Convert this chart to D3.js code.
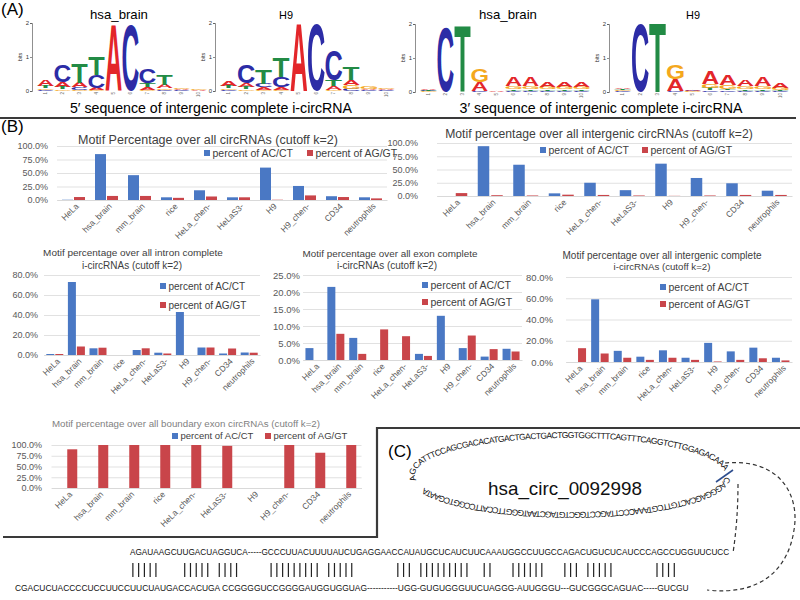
<!DOCTYPE html>
<html><head><meta charset="utf-8">
<script src="https://cdn.jsdelivr.net/npm/d3@7"></script>
<style>body{margin:0;background:#fff} svg{display:block} text{font-family:"Liberation Sans",Arial,sans-serif}</style>
</head><body><svg id="fig" width="800" height="600"></svg>
<script>
// ---------------- DATA ----------------
const categories = ["HeLa","hsa_brain","mm_brain","rice","HeLa_chen-","HeLaS3-","H9","H9_chen-","CD34","neutrophils"];
const seriesNames = ["percent of AC/CT","percent of AG/GT"];
const ticks100 = [0,25,50,75,100];
const ticks80 = [0,20,40,60,80];
const ticks25 = [0,5,10,15,20,25];
// percent values
const allAC = [0.5,85,46,5,18,5,60,26,7,5];
const allAG = [5.5,7.5,7.5,4,6.5,5,0.5,8.5,5.5,3];
const intergenicAC = [0,94,59,5,25,11,61,34,24,10];
const intergenicAG = [5.5,1.5,1,2.5,2,1,0.3,1,2,2];
const intronAC = [1,73,6.7,0,5,2.3,43,7.5,1.5,2.5];
const intronAG = [1,8.5,7.3,0,6.7,1.5,0,7.5,6.5,2.3];
const exonAC = [3.5,21.5,6.5,0,0,1.8,13,3.5,1,3.3];
const exonAG = [0,7.7,1.8,9,7,1.2,0,7.2,3.2,2.5];
const interCompAC = [0,59,10.5,5,11,4,18,10,13.5,4];
const interCompAG = [13,8,4,2,4,2,0.5,2,3.5,1.5];
const boundaryAC = [0,0,0,0,0,0,0,0,0,0];
const boundaryAG = [90,100,100,100,100,98,0,100,82,100];

// sequence logos: per position, stacks bottom -> top, heights in bits
const logo5Brain = [
 [["C",0.04],["G",0.05],["T",0.06],["A",0.17]],
 [["G",0.05],["T",0.08],["A",0.13],["C",0.5]],
 [["G",0.04],["C",0.07],["A",0.13],["T",0.58]],
 [["G",0.03],["A",0.06],["C",0.38],["T",0.53]],
 [["A",1.94]],
 [["C",1.92]],
 [["G",0.04],["A",0.08],["T",0.12],["C",0.44]],
 [["C",0.04],["G",0.04],["A",0.1],["T",0.29]],
 [["C",0.03],["A",0.03],["G",0.04]],
 [["A",0.02],["G",0.02]]
];
const logo5H9 = [
 [["C",0.04],["G",0.05],["T",0.07],["A",0.16]],
 [["G",0.05],["T",0.07],["A",0.12],["C",0.52]],
 [["G",0.04],["A",0.07],["C",0.1],["T",0.41]],
 [["G",0.03],["A",0.07],["C",0.3],["T",0.57]],
 [["A",1.97]],
 [["C",1.97]],
 [["G",0.04],["A",0.1],["T",0.18],["C",0.88]],
 [["C",0.07],["G",0.1],["A",0.15],["T",0.36]],
 [["C",0.03],["A",0.03],["G",0.06]],
 [["C",0.03],["A",0.03],["G",0.04]]
];
const logo3Brain = [
 [["G",0.02],["C",0.02],["T",0.03],["A",0.04]],
 [["C",1.9]],
 [["T",1.96]],
 [["C",0.03],["A",0.26],["G",0.37]],
 [["G",0.01],["A",0.02]],
 [["C",0.04],["T",0.05],["G",0.08],["A",0.27]],
 [["C",0.04],["T",0.05],["G",0.08],["A",0.27]],
 [["C",0.04],["T",0.04],["G",0.06],["A",0.13]],
 [["C",0.04],["T",0.04],["G",0.07],["A",0.16]],
 [["C",0.04],["T",0.04],["G",0.07],["A",0.16]]
];
const logo3H9 = [
 [["C",0.02],["G",0.03],["T",0.03],["A",0.05]],
 [["C",2.0]],
 [["T",2.02]],
 [["C",0.04],["A",0.34],["G",0.42]],
 [["G",0.02],["C",0.02],["A",0.03]],
 [["C",0.05],["T",0.06],["G",0.12],["A",0.37]],
 [["C",0.05],["T",0.05],["G",0.11],["A",0.32]],
 [["C",0.04],["T",0.05],["G",0.08],["A",0.2]],
 [["C",0.04],["T",0.05],["G",0.09],["A",0.26]],
 [["C",0.03],["T",0.04],["G",0.06],["A",0.13]]
];
const logoTitles = ["hsa_brain","H9","hsa_brain","H9"];
const logoCaptions = ["5\u2032 sequence of intergenic complete i-circRNA","3\u2032 sequence of intergenic complete i-circRNA"];

// panel C
const circName = "hsa_circ_0092998";
const circTop = "AGCATTTCCAGCGACACATGACTGACTGACTGGTGGCTTTCAGTTTCAGGTCTTGGAGACAAA";
const circBottom = "CAGGGAGCACTGTTCGTAAACCCTTAGCCTGGCTGTAGCTAATGGGTTCCATTCCGGTCGAATA";
const seqTop = "AGAUAAGCUUGACUAGGUCA-----GCCCUUACUUUUAUCUGAGGAACCAUAUGCUCAUCUUCAAAUGGCCUUGCCAGACUGUCUCAUCCCAGCCUGGUUCUCC";
const seqBottom = "CGACUCUACCCCUCCUUCCUUCUAUGACCACUGA  CCGGGGUCCGGGGAUGGUGGUAG-----------UGG-GUGUGGGUUCUAGGG-AUUGGGU---GUCGGGCAGUAC-----GUCGU";
const matchLine = "|||||    ||||| ||||     ||||||||| |||||       ||| |||||||||  ||   ||||||   ||| |||||       ||||";

// ---------------- DRAWING ----------------
const svg = d3.select("#fig");
const BLUE = "#4a78c4", RED = "#c9454a";
const LETTER_COL = {A:"#e3262a", C:"#2c2ca6", G:"#f4a81d", T:"#228b45"};

function fit(sel, w){
  const len = sel.node().getComputedTextLength();
  const fs = parseFloat(sel.attr("font-size"));
  sel.attr("font-size", (fs*w/len).toFixed(2));
  return sel;
}

// panel labels
svg.append("text").attr("x",1).attr("y",15).attr("font-size",17).text("(A)");
svg.append("text").attr("x",1).attr("y",132).attr("font-size",17).text("(B)");
svg.append("text").attr("x",388).attr("y",457).attr("font-size",17).text("(C)");

// separator lines
const sep = svg.append("g").attr("stroke","#3a3a3a").attr("stroke-width",2.2).attr("fill","none");
sep.append("line").attr("x1",0).attr("x2",796).attr("y1",118).attr("y2",118);
sep.append("path").attr("d","M3,537 H377 V428 H800");

// ---------- Panel A: sequence logos ----------
const ctx = document.createElement("canvas").getContext("2d");
ctx.font = "bold 100px 'Liberation Sans', Arial, sans-serif";
const glyph = {};
"ACGT".split("").forEach(ch => {
  const m = ctx.measureText(ch);
  glyph[ch] = {l:m.actualBoundingBoxLeft, r:m.actualBoundingBoxRight, a:m.actualBoundingBoxAscent, d:m.actualBoundingBoxDescent};
});
function drawGlyph(g, ch, x, yb, w, h){
  const m = glyph[ch];
  const sx = w/(m.l+m.r), sy = h/(m.a+m.d);
  g.append("text").attr("font-size",100).attr("font-weight","bold")
    .attr("fill",LETTER_COL[ch])
    .attr("transform",`translate(${x+m.l*sx},${yb-m.d*sy}) scale(${sx},${sy})`)
    .text(ch);
}
const logoLayout = [
  {x0:37, pw:17, yZero:91, ppb:34, tx:119},
  {x0:220, pw:17.5, yZero:91, ppb:34, tx:286},
  {x0:420, pw:17, yZero:92, ppb:34, tx:508},
  {x0:614, pw:17.5, yZero:92, ppb:34, tx:693}
];
[logo5Brain, logo5H9, logo3Brain, logo3H9].forEach((stacks, k) => {
  const L = logoLayout[k];
  const g = svg.append("g");
  const y = d3.scaleLinear().domain([0,2]).range([L.yZero, L.yZero-2*L.ppb]);
  const x = d3.scaleBand().domain(d3.range(1, stacks.length+1)).range([L.x0, L.x0+stacks.length*L.pw]);
  const ay = g.append("g").attr("transform",`translate(${L.x0-5},0)`)
    .call(d3.axisLeft(y).tickValues([0,1,2]).tickSize(2).tickPadding(1).tickFormat(d3.format("d")));
  ay.attr("font-size",null).attr("font-family",null);
  ay.selectAll("text").attr("font-size",6).attr("fill","#333");
  ay.selectAll("line,path").attr("stroke","#444").attr("stroke-width",0.6);
  g.append("text").attr("transform",`translate(${L.x0-15},${y(1)}) rotate(-90)`)
    .attr("text-anchor","middle").attr("font-size",5.5).attr("fill","#333").text("bits");
  const ax = g.append("g").attr("transform",`translate(0,${L.yZero+1})`)
    .call(d3.axisBottom(x).tickSize(0).tickPadding(0).tickSizeOuter(0));
  ax.attr("font-size",null).attr("font-family",null);
  ax.select(".domain").remove();
  ax.selectAll("text").attr("font-size",4.5).attr("fill","#666").attr("y",0).attr("dy","0.3em")
    .attr("text-anchor","end").attr("transform","rotate(-90)");
  stacks.forEach((st, i) => {
    let base = 0;
    st.forEach(([ch, h]) => {
      const yb = y(base), yt = y(base+h);
      base += h;
      if (yb - yt < 0.4) return;
      drawGlyph(g, ch, x(i+1)+0.4, yb, x.bandwidth()-0.8, yb-yt);
    });
  });
  fit(svg.append("text").attr("x",L.tx).attr("y",19).attr("text-anchor","middle")
    .attr("font-size",14).text(logoTitles[k]), logoTitles[k]==="H9"?14:58);
});
fit(svg.append("text").attr("x",211).attr("y",113).attr("text-anchor","middle").attr("font-size",14).text(logoCaptions[0]),282);
fit(svg.append("text").attr("x",601).attr("y",113).attr("text-anchor","middle").attr("font-size",14).text(logoCaptions[1]),283);

// ---------- Panel B: bar charts ----------
const charts = [
 {ac:allAC, ag:allAG, max:100, ticks:ticks100, x0:57, x1:387, yZero:200, yTop:146, labelX:48,
  title:[["Motif Percentage over all circRNAs (cutoff k=2)",208,140,260]], legend:[[204,153],[307,153]],
  barW:11, gap:1, tickFont:9, catFont:8.5, legFont:10.5, titleColor:"#404040"},
 {ac:intergenicAC, ag:intergenicAG, max:100, ticks:ticks100, x0:437, x1:792, yZero:196, yTop:143, labelX:418,
  title:[["Motif percentage over all intergenic circRNAs (cutoff k=2)",599,134,308]], legend:[[540,150],[642,150]],
  barW:11.5, gap:2, tickFont:9, catFont:8.5, legFont:10.5, titleColor:"#404040"},
 {ac:intronAC, ag:intronAG, max:80, ticks:ticks80, x0:44, x1:260, yZero:355, yTop:275, labelX:38,
  title:[["Motif percentage over all intron complete",133,253,180],["i-circRNAs (cutoff k=2)",132,266,100]],
  legend:[[160,286],[160,305]], barW:8, gap:1, tickFont:9, catFont:8.5, legFont:10, titleColor:"#404040"},
 {ac:exonAC, ag:exonAG, max:25, ticks:ticks25, x0:303, x1:522, yZero:360, yTop:275, labelX:300,
  title:[["Motif percentage over all exon complete",390,254,175],["i-circRNAs (cutoff k=2)",387,266,100]],
  legend:[[422,285],[422,302]], barW:8, gap:1, tickFont:9.5, catFont:8.5, legFont:10.5, titleColor:"#404040"},
 {ac:interCompAC, ag:interCompAG, max:80, ticks:ticks80, x0:566, x1:792, yZero:362, yTop:277, labelX:553,
  title:[["Motif percentage over all intergenic complete",662,255,199],["i-circRNAs (cutoff k=2)",662,267,97]],
  legend:[[660,287],[660,304]], barW:8, gap:1.5, tickFont:9.5, catFont:8.5, legFont:10.5, titleColor:"#404040"},
 {ac:boundaryAC, ag:boundaryAG, max:100, ticks:ticks100, x0:51.5, x1:361.5, yZero:488, yTop:445, labelX:42,
  title:[["Motif percentage over all boundary exon circRNAs (cutoff k=2)",186,424,268]], legend:[[172,436],[265,436]],
  barW:10, gap:0.5, tickFont:9, catFont:8.5, legFont:9.5, titleColor:"#7f7f7f"}
];

charts.forEach(s => {
  const g = svg.append("g");
  const x = d3.scaleBand().domain(categories).range([s.x0, s.x1]);
  const y = d3.scaleLinear().domain([0, s.max]).range([s.yZero, s.yTop]);
  // gridlines
  const gg = g.append("g").attr("transform",`translate(${s.x0},0)`)
    .call(d3.axisRight(y).tickValues(s.ticks).tickSize(s.x1-s.x0).tickFormat(""));
  gg.select(".domain").remove();
  gg.selectAll("line").attr("stroke","#d9d9d9").attr("stroke-width",0.8);
  // y labels
  const gy = g.append("g").attr("transform",`translate(${s.labelX},0)`)
    .call(d3.axisLeft(y).tickValues(s.ticks).tickSize(0).tickPadding(0).tickFormat(d => d.toFixed(1)+"%"));
  gy.attr("font-size",null).attr("font-family",null);
  gy.select(".domain").remove();
  gy.selectAll("text").attr("fill","#595959").attr("font-size",s.tickFont);
  // bars
  const rows = categories.map((c,i) => ({c, ac:s.ac[i], ag:s.ag[i]}));
  g.selectAll("rect.ac").data(rows).join("rect").attr("class","ac")
    .attr("x", d => x(d.c)+x.bandwidth()/2 - s.gap/2 - s.barW)
    .attr("y", d => y(d.ac)).attr("width", s.barW).attr("height", d => s.yZero - y(d.ac))
    .attr("fill", BLUE);
  g.selectAll("rect.ag").data(rows).join("rect").attr("class","ag")
    .attr("x", d => x(d.c)+x.bandwidth()/2 + s.gap/2)
    .attr("y", d => y(d.ag)).attr("width", s.barW).attr("height", d => s.yZero - y(d.ag))
    .attr("fill", RED);
  // x axis
  const gx = g.append("g").attr("transform",`translate(0,${s.yZero})`)
    .call(d3.axisBottom(x).tickSize(0).tickSizeOuter(0).tickPadding(0));
  gx.attr("font-size",null).attr("font-family",null);
  gx.select(".domain").attr("stroke","#d9d9d9");
  gx.selectAll("text").attr("fill","#595959").attr("font-size",s.catFont)
    .attr("y",0).attr("dy","0.3em").attr("text-anchor","end")
    .attr("transform","translate(4,5) rotate(-45)");
  // legend
  seriesNames.forEach((n,i) => {
    const [lx,ly] = s.legend[i];
    g.append("rect").attr("x",lx).attr("y",ly-3).attr("width",6).attr("height",6).attr("fill",[BLUE,RED][i]);
    g.append("text").attr("x",lx+8.5).attr("y",ly).attr("dy","0.35em").attr("font-size",s.legFont)
      .attr("fill","#404040").text(n);
  });
  // title
  s.title.forEach(([t,cx,cy,w]) => {
    fit(g.append("text").attr("x",cx).attr("y",cy).attr("dy","0.35em").attr("text-anchor","middle")
      .attr("font-size",12).attr("fill",s.titleColor).text(t), w);
  });
});

// ---------- Panel C ----------
const E = {cx:570, cy:475, rx:155, ry:37};
const degs = d3.range(165, 525.01, 0.5);
const pts = degs.map(d => [E.cx+E.rx*Math.cos(d*Math.PI/180), E.cy+E.ry*Math.sin(d*Math.PI/180)]);
const cum = [0];
for (let i=1;i<pts.length;i++) cum.push(cum[i-1]+Math.hypot(pts[i][0]-pts[i-1][0], pts[i][1]-pts[i-1][1]));
const arcAt = deg => cum[Math.round((deg-165)/0.5)];
svg.append("defs").append("path").attr("id","circPath").attr("d", d3.line()(pts));
function circText(str, d0, d1, fs){
  const t = svg.append("text").attr("font-size",fs).attr("fill","#111");
  const tmp = svg.append("text").attr("font-size",fs).text(str);
  const nat = tmp.node().getComputedTextLength(); tmp.remove();
  const target = arcAt(d1)-arcAt(d0);
  t.attr("letter-spacing", ((target-nat)/str.length).toFixed(3));
  t.append("textPath").attr("href","#circPath").attr("startOffset",arcAt(d0)).text(str);
}
circText(circTop, 172, 353, 8.5);
circText(circBottom, 362, 519, 8.5);
fit(svg.append("text").attr("x",565).attr("y",495).attr("text-anchor","middle").attr("font-size",20)
  .attr("fill","#111").text(circName), 154);
svg.append("line").attr("x1",716).attr("y1",482).attr("x2",733).attr("y2",470)
  .attr("stroke","#2f4f8f").attr("stroke-width",1.6);
const dash = svg.append("g").attr("fill","none").attr("stroke","#333").attr("stroke-width",1.2).attr("stroke-dasharray","4,3");
dash.append("path").attr("d","M725,463 C780,458 800,495 794,530 C788,570 760,596 707,590");
dash.append("path").attr("d","M738,484 Q738,520 733,553");

// alignment
const colScale = d3.scaleLinear().domain([0, seqTop.length]).range([130, 729]);
function seqText(str, x, y, w){
  const t = svg.append("text").attr("transform",`translate(${x},${y}) scale(1,1.18)`)
    .attr("font-size",10).attr("fill","#111").text(str);
  fit(t, w);
}
seqText(seqTop, colScale(0), 555, colScale(seqTop.length)-colScale(0));
seqText(seqBottom, 15, 591, 674);
const matchCols = matchLine.split("").map((c,i) => c==="|" ? i : -1).filter(i => i>=0);
svg.append("g").selectAll("line").data(matchCols).join("line")
  .attr("x1", i => colScale(i+0.5)).attr("x2", i => colScale(i+0.5))
  .attr("y1",563).attr("y2",577).attr("stroke","#222").attr("stroke-width",1.2);
</script></body></html>
